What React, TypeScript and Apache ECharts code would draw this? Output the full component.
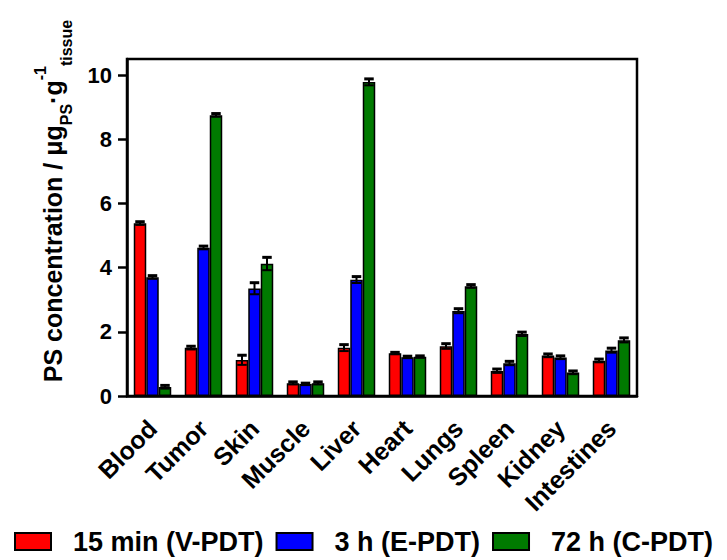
import React, { useEffect, useRef } from "react";
import * as echarts from "echarts";

const categories = ["Blood", "Tumor", "Skin", "Muscle", "Liver", "Heart", "Lungs", "Spleen", "Kidney", "Intestines"];
const seriesNames = ["15 min (V-PDT)", "3 h (E-PDT)", "72 h (C-PDT)"];
const vpdt = [5.38, 1.5, 1.12, 0.4, 1.5, 1.33, 1.55, 0.78, 1.26, 1.1];
const epdt = [3.7, 4.62, 3.35, 0.37, 3.62, 1.21, 2.65, 1.02, 1.2, 1.42];
const cpdt = [0.28, 8.75, 4.12, 0.4, 9.78, 1.22, 3.42, 1.93, 0.73, 1.74];
const vpdtErr = [0.05, 0.05, 0.15, 0.04, 0.1, 0.03, 0.08, 0.06, 0.05, 0.05];
const epdtErr = [0.05, 0.05, 0.18, 0.03, 0.1, 0.03, 0.07, 0.06, 0.05, 0.07];
const cpdtErr = [0.05, 0.05, 0.2, 0.04, 0.1, 0.03, 0.05, 0.06, 0.05, 0.07];
const yTicks = [0, 2, 4, 6, 8, 10];

const COLORS = ["#ff0000", "#0000ff", "#007a00"];
const BAR_FRAC = 0.245;
const FONT = "'Liberation Sans', Arial, sans-serif";

export default function App() {
  const ref = useRef<HTMLDivElement>(null);
  useEffect(() => {
    document.body.style.margin = "0";
    if (!ref.current) return;
    const chart = echarts.init(ref.current, undefined, { renderer: "svg" });
    const means = [vpdt, epdt, cpdt];
    const errs = [vpdtErr, epdtErr, cpdtErr];

    const barSeries = means.map((m, i) => ({
      type: "bar",
      name: seriesNames[i],
      data: m,
      barWidth: (BAR_FRAC * 100).toFixed(1) + "%",
      barGap: "0%",
      itemStyle: { color: COLORS[i], borderColor: "#000", borderWidth: 1.5 },
      z: 2,
    }));

    const errSeries = means.map((m, idx) => ({
      type: "custom",
      name: seriesNames[idx] + " err",
      data: m.map((v, i) => [i, v, errs[idx][i]]),
      encode: { x: 0, y: 1 },
      z: 10,
      silent: true,
      renderItem: (params: any, api: any) => {
        const ci = api.value(0);
        const mv = api.value(1);
        const e = api.value(2);
        const bw = api.size([1, 0])[0] * BAR_FRAC;
        const off = (idx - 1) * bw;
        const top = api.coord([ci, mv + e]);
        const bot = api.coord([ci, mv - e]);
        const x = top[0] + off;
        const hw = bw * 0.38;
        const st = { stroke: "#000", lineWidth: 2 };
        return {
          type: "group",
          children: [
            { type: "line", shape: { x1: x, y1: top[1], x2: x, y2: bot[1] }, style: st },
            { type: "line", shape: { x1: x - hw, y1: top[1], x2: x + hw, y2: top[1] }, style: { stroke: "#000", lineWidth: 3 } },
            { type: "line", shape: { x1: x - hw, y1: bot[1], x2: x + hw, y2: bot[1] }, style: st },
          ],
        };
      },
    }));

    chart.setOption({
      animation: false,
      backgroundColor: "#fff",
      textStyle: { fontFamily: FONT },
      grid: {
        left: 127,
        right: 90,
        top: 59,
        bottom: 164,
        show: true,
        borderColor: "#000",
        borderWidth: 2.5,
        containLabel: false,
        outerBoundsMode: "none",
      },
      legend: {
        data: seriesNames,
        left: 9,
        top: 523,
        itemWidth: 36,
        itemHeight: 17,
        itemGap: 12,
        icon: "rect",
        selectedMode: false,
        textStyle: { fontFamily: FONT, fontWeight: "bold", fontSize: 27, color: "#000", padding: [0, 0, 0, 17] },
      },
      xAxis: {
        type: "category",
        data: categories,
        axisLine: { lineStyle: { color: "#000", width: 2.5 } },
        axisTick: { alignWithLabel: true, length: 9, lineStyle: { color: "#000", width: 2.5 } },
        axisLabel: { rotate: 45, margin: 28, color: "#000", fontWeight: "bold", fontSize: 25, fontFamily: FONT },
      },
      yAxis: {
        type: "value",
        min: 0,
        max: 10.5,
        interval: 2,
        axisLine: { show: true, lineStyle: { color: "#000", width: 2.5 } },
        axisTick: { show: true, length: 9, lineStyle: { color: "#000", width: 2.5 }, customValues: yTicks },
        axisLabel: { margin: 15, color: "#000", fontWeight: "bold", fontSize: 22, fontFamily: FONT, customValues: yTicks },
        splitLine: { show: false },
      },
      graphic: [
        {
          type: "text",
          x: 53,
          y: 201,
          rotation: Math.PI / 2,
          style: {
            text: "{a|PS concentration / μg}{sub|PS}{a|·g}{sup|-1}{sub|tissue}",
            align: "center",
            verticalAlign: "middle",
            fill: "#000",
            rich: {
              a: { fontFamily: FONT, fontWeight: "bold", fontSize: 25, lineHeight: 42, verticalAlign: "middle", fill: "#000" },
              sub: { fontFamily: FONT, fontWeight: "bold", fontSize: 16, lineHeight: 16, verticalAlign: "bottom", fill: "#000" },
              sup: { fontFamily: FONT, fontWeight: "bold", fontSize: 16, lineHeight: 16, verticalAlign: "top", fill: "#000" },
            },
          },
        },
      ],
      series: [...barSeries, ...errSeries],
    } as any);
    return () => chart.dispose();
  }, []);
  return <div ref={ref} style={{ width: 727, height: 560 }} />;
}
